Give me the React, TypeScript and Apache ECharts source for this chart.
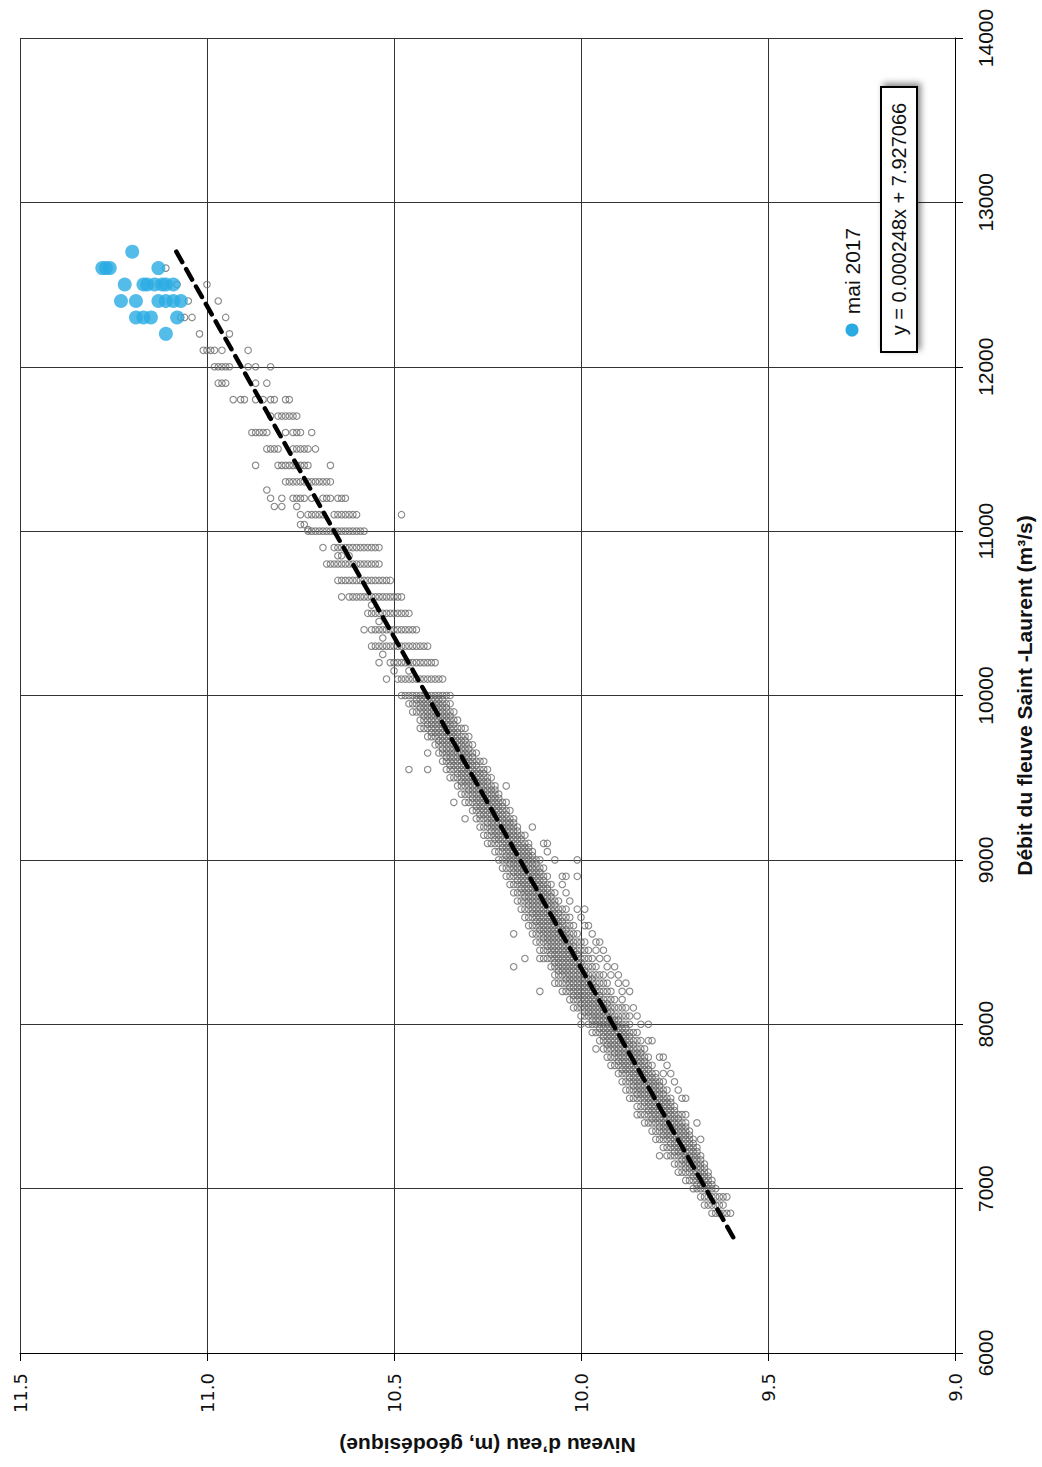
import React, { useEffect, useRef } from "react";
import * as echarts from "echarts";

// Axis ticks
const niveauTicks = [9.0, 9.5, 10.0, 10.5, 11.0, 11.5];
const debitTicks = [6000, 7000, 8000, 9000, 10000, 11000, 12000, 13000, 14000];

// Observed rows: [débit (m³/s), niveau (cm) ...]
const highFlowRows: number[][] = [
  [10100, 1052, 1049, 1048, 1047, 1046, 1045, 1044, 1043, 1042, 1041, 1040, 1039, 1038, 1037],
  [10150, 1050, 1046],
  [10200, 1054, 1051, 1050, 1049, 1048, 1047, 1046, 1045, 1044, 1043, 1042, 1041, 1040, 1039],
  [10250, 1053],
  [10300, 1056, 1055, 1054, 1053, 1052, 1051, 1050, 1049, 1048, 1047, 1046, 1045, 1044, 1043, 1042, 1041],
  [10350, 1053],
  [10400, 1058, 1056, 1055, 1054, 1053, 1052, 1051, 1050, 1049, 1048, 1047, 1046, 1045, 1044],
  [10450, 1054],
  [10500, 1057, 1056, 1055, 1054, 1053, 1052, 1051, 1050, 1049, 1048, 1047, 1046],
  [10550, 1056],
  [10600, 1064, 1062, 1061, 1060, 1059, 1058, 1057, 1056, 1055, 1054, 1053, 1052, 1051, 1050, 1049, 1048],
  [10700, 1065, 1064, 1063, 1062, 1061, 1060, 1059, 1058, 1057, 1056, 1055, 1054, 1053, 1052, 1051],
  [10800, 1068, 1067, 1066, 1065, 1064, 1063, 1062, 1061, 1060, 1059, 1058, 1057, 1056, 1055, 1054],
  [10850, 1065, 1064, 1062],
  [10900, 1069, 1066, 1065, 1064, 1063, 1062, 1061, 1060, 1059, 1058, 1057, 1056, 1055, 1054],
  [11000, 1073, 1072, 1071, 1070, 1069, 1068, 1067, 1066, 1065, 1064, 1063, 1062, 1061, 1060, 1059, 1058],
  [11010, 1073],
  [11040, 1075, 1074],
  [11100, 1075, 1073, 1072, 1071, 1070, 1069, 1066, 1065, 1064, 1063, 1062, 1061, 1060, 1048],
  [11150, 1082, 1080, 1076],
  [11200, 1083, 1080, 1077, 1076, 1075, 1074, 1072, 1069, 1068, 1067, 1065, 1064, 1063],
  [11250, 1084],
  [11300, 1079, 1078, 1077, 1076, 1075, 1074, 1073, 1072, 1071, 1070, 1069, 1068, 1067],
  [11400, 1087, 1081, 1080, 1079, 1078, 1077, 1076, 1075, 1074, 1073, 1067],
  [11500, 1084, 1083, 1082, 1081, 1077, 1076, 1075, 1074, 1073, 1071],
  [11600, 1088, 1087, 1086, 1085, 1084, 1079, 1077, 1076, 1075, 1072],
  [11700, 1083, 1081, 1080, 1079, 1078, 1077, 1076],
  [11800, 1093, 1091, 1090, 1087, 1085, 1083, 1082, 1079, 1078],
  [11900, 1097, 1096, 1095, 1087, 1084],
  [12000, 1098, 1097, 1096, 1095, 1094, 1089, 1087, 1083],
  [12100, 1101, 1100, 1099, 1098, 1096, 1089],
  [12200, 1102, 1094],
  [12300, 1107, 1106, 1104, 1095],
  [12400, 1105, 1097],
  [12500, 1108, 1100],
  [12600, 1111],
];

const denseRows: number[][] = [
  [10000, 1048, 1047, 1046, 1045, 1044, 1043, 1042, 1041, 1040, 1039, 1038, 1037, 1036, 1035],
  [9975, 1044, 1043, 1042, 1041, 1040, 1039, 1038, 1037],
  [9950, 1046, 1045, 1044, 1043, 1042, 1041, 1040, 1039, 1038, 1037, 1036, 1035],
  [9925, 1043, 1042, 1041, 1040, 1039, 1038, 1037, 1036],
  [9900, 1045, 1044, 1043, 1042, 1041, 1040, 1039, 1038, 1037, 1036, 1035, 1034],
  [9875, 1042, 1041, 1040, 1039, 1038, 1037, 1036, 1035],
  [9850, 1043, 1042, 1041, 1040, 1039, 1038, 1037, 1036, 1035, 1034, 1033],
  [9825, 1041, 1040, 1039, 1038, 1037, 1036, 1035, 1034],
  [9800, 1043, 1042, 1041, 1040, 1039, 1038, 1037, 1036, 1035, 1034, 1033, 1032, 1031],
  [9775, 1040, 1039, 1038, 1037, 1036, 1035, 1034, 1033],
  [9750, 1041, 1040, 1039, 1038, 1037, 1036, 1035, 1034, 1033, 1032, 1031, 1030],
  [9725, 1038, 1037, 1036, 1035, 1034, 1033, 1032, 1031],
  [9700, 1039, 1038, 1037, 1036, 1035, 1034, 1033, 1032, 1031, 1030, 1029],
  [9675, 1037, 1036, 1035, 1034, 1033, 1032, 1031, 1030],
  [9650, 1041, 1038, 1037, 1036, 1035, 1034, 1033, 1032, 1031, 1030, 1029, 1028],
  [9625, 1036, 1035, 1034, 1033, 1032, 1031, 1030, 1029],
  [9600, 1037, 1036, 1035, 1034, 1033, 1032, 1031, 1030, 1029, 1028, 1027, 1026],
  [9575, 1035, 1034, 1033, 1032, 1031, 1030, 1029, 1028],
  [9550, 1046, 1041, 1036, 1035, 1034, 1033, 1032, 1031, 1030, 1029, 1028, 1027, 1026, 1025],
  [9525, 1033, 1032, 1031, 1030, 1029, 1028, 1027, 1026],
  [9500, 1035, 1034, 1033, 1032, 1031, 1030, 1029, 1028, 1027, 1026, 1025, 1024],
  [9475, 1032, 1031, 1030, 1029, 1028, 1027, 1026, 1025],
  [9450, 1033, 1032, 1031, 1030, 1029, 1028, 1027, 1026, 1025, 1024, 1023, 1020],
  [9425, 1030, 1029, 1028, 1027, 1026, 1025, 1024, 1023],
  [9400, 1032, 1031, 1030, 1029, 1028, 1027, 1026, 1025, 1024, 1023, 1022],
  [9375, 1029, 1028, 1027, 1026, 1025, 1024, 1023, 1022],
  [9350, 1034, 1031, 1030, 1029, 1028, 1027, 1026, 1025, 1024, 1023, 1022, 1021, 1020],
  [9325, 1028, 1027, 1026, 1025, 1024, 1023, 1022, 1021],
  [9300, 1029, 1028, 1027, 1026, 1025, 1024, 1023, 1022, 1021, 1020, 1019],
  [9275, 1027, 1026, 1025, 1024, 1023, 1022, 1021, 1020],
  [9250, 1031, 1028, 1027, 1026, 1025, 1024, 1023, 1022, 1021, 1020, 1019, 1018],
  [9225, 1025, 1024, 1023, 1022, 1021, 1020, 1019, 1018],
  [9200, 1027, 1026, 1025, 1024, 1023, 1022, 1021, 1020, 1019, 1018, 1017, 1013],
  [9175, 1024, 1023, 1022, 1021, 1020, 1019, 1018, 1017],
  [9150, 1026, 1025, 1024, 1023, 1022, 1021, 1020, 1019, 1018, 1017, 1016, 1015],
  [9125, 1023, 1022, 1021, 1020, 1019, 1018, 1017, 1016],
  [9100, 1025, 1024, 1023, 1022, 1021, 1020, 1019, 1018, 1017, 1016, 1015, 1014, 1010, 1009],
  [9075, 1021, 1020, 1019, 1018, 1017, 1016, 1015, 1014],
  [9050, 1023, 1022, 1021, 1020, 1019, 1018, 1017, 1016, 1015, 1014, 1013, 1009],
  [9025, 1020, 1019, 1018, 1017, 1016, 1015, 1014, 1013],
  [9000, 1022, 1021, 1020, 1019, 1018, 1017, 1016, 1015, 1014, 1013, 1012, 1011, 1007, 1001],
  [8975, 1019, 1018, 1017, 1016, 1015, 1014, 1013, 1012],
  [8950, 1021, 1020, 1019, 1018, 1017, 1016, 1015, 1014, 1013, 1012, 1011, 1010],
  [8925, 1018, 1017, 1016, 1015, 1014, 1013, 1012, 1011],
  [8900, 1020, 1019, 1018, 1017, 1016, 1015, 1014, 1013, 1012, 1011, 1010, 1009, 1005, 1004, 1001],
  [8875, 1017, 1016, 1015, 1014, 1013, 1012, 1011, 1010],
  [8850, 1019, 1018, 1017, 1016, 1015, 1014, 1013, 1012, 1011, 1010, 1009, 1008, 1005],
  [8825, 1016, 1015, 1014, 1013, 1012, 1011, 1010, 1009],
  [8800, 1018, 1017, 1016, 1015, 1014, 1013, 1012, 1011, 1010, 1009, 1008, 1007, 1004],
  [8775, 1015, 1014, 1013, 1012, 1011, 1010, 1009, 1008],
  [8750, 1017, 1016, 1015, 1014, 1013, 1012, 1011, 1010, 1009, 1008, 1007, 1006, 1003],
  [8725, 1014, 1013, 1012, 1011, 1010, 1009, 1008, 1007],
  [8700, 1016, 1015, 1014, 1013, 1012, 1011, 1010, 1009, 1008, 1007, 1006, 1005, 1004, 1001, 999],
  [8675, 1013, 1012, 1011, 1010, 1009, 1008, 1007, 1006],
  [8650, 1015, 1014, 1013, 1012, 1011, 1010, 1009, 1008, 1007, 1006, 1005, 1004, 1003, 1000],
  [8625, 1012, 1011, 1010, 1009, 1008, 1007, 1006, 1005],
  [8600, 1014, 1013, 1012, 1011, 1010, 1009, 1008, 1007, 1006, 1005, 1004, 1003, 1002, 999, 998],
  [8575, 1011, 1010, 1009, 1008, 1007, 1006, 1005, 1004],
  [8550, 1018, 1013, 1012, 1011, 1010, 1009, 1008, 1007, 1006, 1005, 1004, 1003, 1002, 1001, 997],
  [8525, 1010, 1009, 1008, 1007, 1006, 1005, 1004, 1003],
  [8500, 1012, 1011, 1010, 1009, 1008, 1007, 1006, 1005, 1004, 1003, 1002, 1001, 1000, 999, 996, 995],
  [8475, 1009, 1008, 1007, 1006, 1005, 1004, 1003, 1002],
  [8450, 1011, 1010, 1009, 1008, 1007, 1006, 1005, 1004, 1003, 1002, 1001, 1000, 999, 998, 996, 994],
  [8425, 1008, 1007, 1006, 1005, 1004, 1003, 1002, 1001],
  [8400, 1015, 1011, 1010, 1009, 1008, 1007, 1006, 1005, 1004, 1003, 1002, 1001, 1000, 999, 998, 997, 995, 993],
  [8375, 1007, 1006, 1005, 1004, 1003, 1002, 1001, 1000],
  [8350, 1018, 1008, 1007, 1006, 1005, 1004, 1003, 1002, 1001, 1000, 999, 998, 997, 996, 993, 991],
  [8325, 1006, 1005, 1004, 1003, 1002, 1001, 1000, 999],
  [8300, 1007, 1006, 1005, 1004, 1003, 1002, 1001, 1000, 999, 998, 997, 996, 995, 994, 992, 990],
  [8275, 1004, 1003, 1002, 1001, 1000, 999, 998, 997],
  [8250, 1007, 1006, 1005, 1004, 1003, 1002, 1001, 1000, 999, 998, 997, 996, 995, 994, 993, 990, 988],
  [8225, 1003, 1002, 1001, 1000, 999, 998, 997, 996],
  [8200, 1011, 1005, 1004, 1003, 1002, 1001, 1000, 999, 998, 997, 996, 995, 994, 993, 992, 989, 987],
  [8175, 1002, 1001, 1000, 999, 998, 997, 996, 995],
  [8150, 1003, 1002, 1001, 1000, 999, 998, 997, 996, 995, 994, 993, 992, 991, 989],
  [8125, 1000, 999, 998, 997, 996, 995, 994, 993],
  [8100, 1002, 1001, 1000, 999, 998, 997, 996, 995, 994, 993, 992, 991, 990, 989, 988, 986],
  [8075, 999, 998, 997, 996, 995, 994, 993, 992],
  [8050, 1000, 999, 998, 997, 996, 995, 994, 993, 992, 991, 990, 989, 988, 987, 985],
  [8025, 997, 996, 995, 994, 993, 992, 991, 990],
  [8000, 1000, 998, 997, 996, 995, 994, 993, 992, 991, 990, 989, 988, 987, 984, 982],
  [7975, 995, 994, 993, 992, 991, 990, 989, 988],
  [7950, 997, 996, 995, 994, 993, 992, 991, 990, 989, 988, 987, 986, 985],
  [7925, 994, 993, 992, 991, 990, 989, 988, 987],
  [7900, 995, 994, 993, 992, 991, 990, 989, 988, 987, 986, 985, 984, 982, 981],
  [7875, 993, 992, 991, 990, 989, 988, 987, 986],
  [7850, 996, 994, 993, 992, 991, 990, 989, 988, 987, 986, 985, 984, 983],
  [7825, 991, 990, 989, 988, 987, 986, 985, 984],
  [7800, 993, 992, 991, 990, 989, 988, 987, 986, 985, 984, 983, 982, 979, 978],
  [7775, 990, 989, 988, 987, 986, 985, 984, 983],
  [7750, 992, 991, 990, 989, 988, 987, 986, 985, 984, 983, 982, 981, 977],
  [7725, 989, 988, 987, 986, 985, 984, 983, 982],
  [7700, 990, 989, 988, 987, 986, 985, 984, 983, 982, 981, 980, 978, 976],
  [7675, 987, 986, 985, 984, 983, 982, 981, 980],
  [7650, 989, 988, 987, 986, 985, 984, 983, 982, 981, 980, 979, 978, 975],
  [7625, 986, 985, 984, 983, 982, 981, 980, 979],
  [7600, 988, 987, 986, 985, 984, 983, 982, 981, 980, 979, 978, 977, 974],
  [7575, 985, 984, 983, 982, 981, 980, 979, 978],
  [7550, 987, 986, 985, 984, 983, 982, 981, 980, 979, 978, 977, 976, 973, 972],
  [7525, 983, 982, 981, 980, 979, 978, 977, 976],
  [7500, 985, 984, 983, 982, 981, 980, 979, 978, 977, 976, 975],
  [7475, 982, 981, 980, 979, 978, 977, 976, 975],
  [7450, 985, 984, 983, 982, 981, 980, 979, 978, 977, 976, 975, 974, 973, 972],
  [7425, 981, 980, 979, 978, 977, 976, 975, 974],
  [7400, 983, 982, 981, 980, 979, 978, 977, 976, 975, 974, 973, 972, 969],
  [7375, 979, 978, 977, 976, 975, 974, 973, 972],
  [7350, 981, 980, 979, 978, 977, 976, 975, 974, 973, 972, 971],
  [7325, 978, 977, 976, 975, 974, 973, 972, 971],
  [7300, 980, 979, 978, 977, 976, 975, 974, 973, 972, 971, 970, 968],
  [7275, 976, 975, 974, 973, 972, 971, 970],
  [7250, 978, 977, 976, 975, 974, 973, 972, 971, 970, 969],
  [7225, 975, 974, 973, 972, 971, 970, 969],
  [7200, 979, 977, 976, 975, 974, 973, 972, 971, 970, 969, 968],
  [7175, 973, 972, 971, 970, 969, 968],
  [7150, 975, 974, 973, 972, 971, 970, 969, 968, 967],
  [7125, 972, 971, 970, 969, 968, 967],
  [7100, 974, 973, 972, 971, 970, 969, 968, 967, 966],
  [7075, 970, 969, 968, 967, 966],
  [7050, 972, 971, 970, 969, 968, 967, 966, 965],
  [7025, 969, 968, 967, 966, 965],
  [7000, 970, 969, 968, 967, 966, 965, 964],
  [6950, 968, 967, 966, 965, 964, 963, 962, 961],
  [6900, 967, 966, 965, 964, 963, 962],
  [6850, 965, 964, 963, 962, 961, 960],
];

// mai 2017: [débit, niveau (cm) ...]
const mai2017Rows: number[][] = [
  [12700, 1120],
  [12600, 1128, 1127, 1126, 1113],
  [12500, 1122, 1117, 1116, 1114, 1112, 1111, 1109],
  [12400, 1123, 1119, 1113, 1111, 1109, 1107],
  [12300, 1119, 1117, 1115, 1108],
  [12200, 1111],
];

// Trend line end points: [niveau, débit]
const trendLine: number[][] = [
  [11.082, 12700],
  [9.592, 6700],
];

const toPoints = (rows: number[][]) => {
  const out: number[][] = [];
  rows.forEach((r) => {
    for (let i = 1; i < r.length; i++) out.push([r[i] / 100, r[0]]);
  });
  return out;
};

export default function App() {
  const ref = useRef<HTMLDivElement>(null);
  useEffect(() => {
    const chart = echarts.init(ref.current!, undefined, { renderer: "svg" });
    const greyData = toPoints(highFlowRows).concat(toPoints(denseRows));
    const blueData = toPoints(mai2017Rows);
    const option: any = {
      animation: false,
      backgroundColor: "#ffffff",
      grid: { left: 20, right: 87, top: 38, bottom: 114, containLabel: false, outerBoundsMode: "none" },
      xAxis: {
        type: "value",
        min: niveauTicks[0],
        max: niveauTicks[niveauTicks.length - 1],
        interval: 0.5,
        inverse: true,
        position: "bottom",
        axisLine: { show: true, onZero: false, lineStyle: { color: "#000", width: 1 } },
        axisTick: { show: true, length: 8, lineStyle: { color: "#000", width: 1 } },
        splitLine: { show: true, lineStyle: { color: "#333", width: 1 } },
        axisLabel: {
          rotate: 90,
          margin: 20,
          fontSize: 18,
          fontFamily: "DejaVu Sans",
          color: "#111",
          formatter: (v: number) => v.toFixed(1),
        },
        name: "Niveau d’eau (m, géodésique)",
        nameLocation: "middle",
        nameRotate: 180,
        nameGap: 82,
        nameTextStyle: { fontSize: 21, fontWeight: "bold", fontFamily: "Liberation Sans", color: "#111" },
      },
      yAxis: {
        type: "value",
        min: debitTicks[0],
        max: debitTicks[debitTicks.length - 1],
        interval: 1000,
        position: "right",
        axisLine: { show: true, onZero: false, lineStyle: { color: "#000", width: 1 } },
        axisTick: { show: true, length: 8, lineStyle: { color: "#000", width: 1 } },
        splitLine: { show: true, lineStyle: { color: "#333", width: 1 } },
        axisLabel: {
          rotate: 90,
          margin: 20,
          fontSize: 21,
          fontFamily: "Liberation Sans",
          color: "#111",
          formatter: (v: number) => String(v),
        },
        name: "Débit du fleuve Saint -Laurent (m³/s)",
        nameLocation: "middle",
        nameRotate: 90,
        nameGap: 59,
        nameTextStyle: { fontSize: 21, fontWeight: "bold", fontFamily: "Liberation Sans", color: "#111" },
      },
      series: [
        {
          type: "scatter",
          data: greyData,
          symbol: "circle",
          symbolSize: 6.5,
          silent: true,
          progressive: 0,
          itemStyle: { color: "rgba(255,255,255,0)", borderColor: "#6a6a6a", borderWidth: 1.1 },
          z: 2,
        },
        {
          type: "scatter",
          name: "mai 2017",
          data: blueData,
          symbol: "circle",
          symbolSize: 14,
          silent: true,
          itemStyle: { color: "#29abe2" },
          z: 3,
        },
        {
          type: "line",
          data: trendLine,
          showSymbol: false,
          silent: true,
          lineStyle: { color: "#000", width: 4.5, type: [12, 8], cap: "round" },
          z: 4,
        },
      ],
      graphic: [
        { type: "circle", z: 100, shape: { cx: 852, cy: 330, r: 6.5 }, style: { fill: "#29abe2" } },
        {
          type: "text",
          z: 100,
          x: 852,
          y: 271,
          rotation: Math.PI / 2,
          style: {
            text: "mai 2017",
            fontSize: 21,
            fontFamily: "Liberation Sans",
            fill: "#111",
            align: "center",
            verticalAlign: "middle",
          },
        },
        {
          type: "rect",
          z: 100,
          shape: { x: 881, y: 87, width: 36, height: 265 },
          style: {
            fill: "#fff",
            stroke: "#000",
            lineWidth: 2,
            shadowBlur: 6,
            shadowColor: "rgba(0,0,0,0.45)",
            shadowOffsetX: 3,
            shadowOffsetY: -3,
          },
        },
        {
          type: "text",
          z: 101,
          x: 899,
          y: 219,
          rotation: Math.PI / 2,
          style: {
            text: "y = 0.000248x + 7.927066",
            fontSize: 20,
            fontFamily: "Liberation Sans",
            fill: "#111",
            align: "center",
            verticalAlign: "middle",
          },
        },
      ],
    };
    chart.setOption(option);
    return () => chart.dispose();
  }, []);
  return <div ref={ref} style={{ position: "absolute", left: 0, top: 0, width: 1042, height: 1467 }} />;
}
